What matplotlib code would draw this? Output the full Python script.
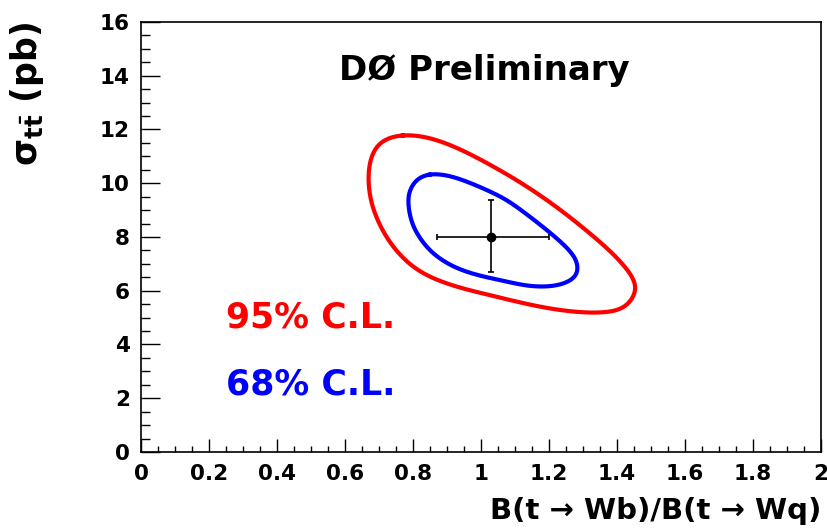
import numpy as np
import matplotlib
matplotlib.use("Agg")
import matplotlib.pyplot as plt
from matplotlib.ticker import MultipleLocator

# ---- data ----
cl95_x = [0.767, 0.845, 0.924, 1.002, 1.115, 1.223, 1.321, 1.399, 1.448, 1.458, 1.438, 1.399,
          1.321, 1.223, 1.124, 1.026, 0.938, 0.855, 0.796, 0.747, 0.708, 0.679, 0.669, 0.669,
          0.679, 0.708]
cl95_y = [11.83, 11.73, 11.36, 10.87, 10.06, 9.13, 8.14, 7.27, 6.52, 6.03, 5.53, 5.22,
          5.16, 5.28, 5.53, 5.84, 6.10, 6.46, 6.90, 7.52, 8.26, 9.13, 9.87, 10.49,
          11.11, 11.61]
cl68_x = [0.845, 0.904, 0.973, 1.061, 1.105, 1.183, 1.252, 1.283, 1.286, 1.262, 1.213, 1.144,
          1.076, 0.982, 0.914, 0.855, 0.816, 0.795, 0.786, 0.786, 0.806]
cl68_y = [10.37, 10.31, 10.00, 9.50, 9.13, 8.38, 7.64, 7.14, 6.65, 6.34, 6.15, 6.15,
          6.34, 6.59, 6.90, 7.39, 8.01, 8.55, 9.13, 9.63, 10.12]
best_x = [1.03]
best_y = [8.0]
best_xerr = [[0.16], [0.17]]
best_yerr = [[1.31], [1.37]]
x_ticks = [0, 0.2, 0.4, 0.6, 0.8, 1, 1.2, 1.4, 1.6, 1.8, 2]
x_ticklabels = ["0", "0.2", "0.4", "0.6", "0.8", "1", "1.2", "1.4", "1.6", "1.8", "2"]
y_ticks = [0, 2, 4, 6, 8, 10, 12, 14, 16]


def bspline_closed(xs, ys, n=24):
    """Closed uniform cubic B-spline using the read-off points as control points."""
    p = np.column_stack([xs, ys])
    m = len(p)
    t = np.linspace(0, 1, n, endpoint=False)[:, None]
    b0 = (1 - t) ** 3 / 6
    b1 = (3 * t ** 3 - 6 * t ** 2 + 4) / 6
    b2 = (-3 * t ** 3 + 3 * t ** 2 + 3 * t + 1) / 6
    b3 = t ** 3 / 6
    out = []
    for i in range(m):
        out.append(b0 * p[(i - 1) % m] + b1 * p[i] + b2 * p[(i + 1) % m] + b3 * p[(i + 2) % m])
    out = np.vstack(out + [out[0][:1]])
    return out[:, 0], out[:, 1]


plt.rcParams['font.family'] = ['DejaVu Sans']
plt.rcParams['mathtext.fontset'] = 'dejavusans'

fig = plt.figure(figsize=(8.27, 5.31), dpi=100)
ax = fig.add_axes([0.1705, 0.1488, 0.8222, 0.8098])

rx, ry = bspline_closed(cl95_x, cl95_y)
ax.plot(rx, ry, color='#ff0000', lw=3.0, solid_joinstyle='round')
bx, by = bspline_closed(cl68_x, cl68_y)
ax.plot(bx, by, color='#0000ff', lw=3.0, solid_joinstyle='round')

ax.errorbar(best_x, best_y, xerr=best_xerr, yerr=best_yerr, fmt='o', color='black',
            ms=6, lw=1.2, capsize=2.5, capthick=1.2)

ax.set_xlim(0, 2)
ax.set_ylim(0, 16)
ax.set_xticks(x_ticks)
ax.set_xticklabels(x_ticklabels)
ax.set_yticks(y_ticks)
ax.xaxis.set_minor_locator(MultipleLocator(0.05))
ax.yaxis.set_minor_locator(MultipleLocator(0.5))

for s in ax.spines.values():
    s.set_linewidth(1.2)
ax.tick_params(axis='both', which='both', direction='in', top=False, right=False,
               width=1.0, labelsize=15.5)
ax.tick_params(axis='x', which='major', length=9.4, pad=9)
ax.tick_params(axis='x', which='minor', length=4.3)
ax.tick_params(axis='y', which='major', length=13.7, pad=8)
ax.tick_params(axis='y', which='minor', length=6.5)
for lab in ax.get_xticklabels() + ax.get_yticklabels():
    lab.set_fontweight('bold')

ax.set_xlabel('B(t \u2192 Wb)/B(t \u2192 Wq)', fontsize=21, fontweight='bold', loc='right')
ax.xaxis.set_label_coords(1.0, -0.105)
ax.set_ylabel(r'$\mathregular{\sigma}_{\mathbf{t\bar{t}}}$ (pb)', fontsize=25,
              fontweight='bold', loc='top')
ax.yaxis.set_label_coords(-0.14, 1.0)

ax.text(1.01, 14.2, 'D\u00d8 Preliminary', fontsize=24.5, fontweight='bold',
        ha='center', va='center')
ax.text(0.25, 5.0, '95% C.L.', fontsize=25, fontweight='bold', color='#ff0000',
        ha='left', va='center')
ax.text(0.25, 2.5, '68% C.L.', fontsize=25, fontweight='bold', color='#0000ff',
        ha='left', va='center')

fig.savefig('out.png', dpi=100, facecolor='white')
